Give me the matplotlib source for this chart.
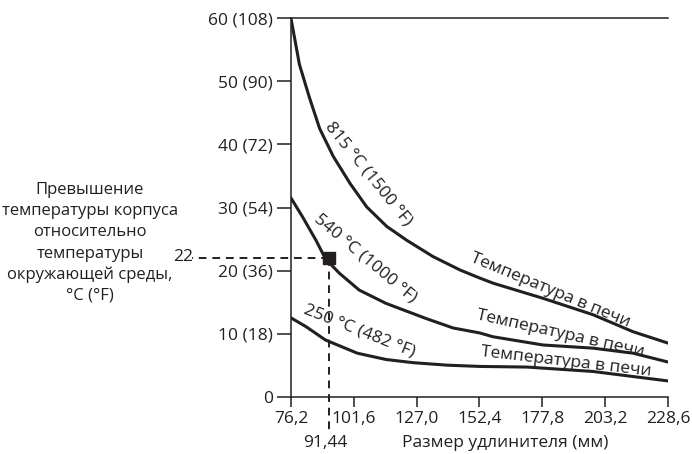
import matplotlib
matplotlib.use("Agg")
import matplotlib.pyplot as plt

plt.rcParams['font.family'] = ['Open Sans', 'DejaVu Sans']

# curves (mm, degC)
x815 = [76.2, 79.6, 83.6, 87.8, 93.3, 100.1, 106.8, 114.9, 123.0, 133.7, 144.5, 152.6, 157.9, 178.1, 198.3, 214.5, 228.6]
y815 = [60.0, 52.7, 47.5, 42.5, 38.1, 33.8, 30.1, 27.0, 24.8, 22.2, 20.1, 18.8, 18.0, 15.6, 13.0, 10.3, 8.5]
x540 = [76.2, 80.9, 86.3, 90.1, 95.7, 103.8, 114.6, 130.8, 141.7, 152.6, 157.9, 178.1, 198.3, 214.5, 228.6]
y540 = [31.5, 28.5, 24.8, 21.9, 19.6, 16.9, 14.8, 12.4, 10.9, 10.1, 9.5, 8.2, 7.7, 6.9, 5.5]
x250 = [76.2, 82.3, 90.1, 103.0, 114.6, 125.5, 139.3, 152.6, 171.6, 198.3, 228.6]
y250 = [12.5, 11.1, 9.0, 6.9, 5.9, 5.4, 5.0, 4.8, 4.7, 4.0, 2.5]

xticks = [76.2, 101.6, 127.0, 152.4, 177.8, 203.2, 228.6]
xlabels = ['76,2', '101,6', '127,0', '152,4', '177,8', '203,2', '228,6']
yticks = [0, 10, 20, 30, 40, 50, 60]
ylabels = ['0', '10 (18)', '20 (36)', '30 (54)', '40 (72)', '50 (90)', '60 (108)']

mark_x = 91.44
mark_y = 22

curve_labels = ['815 °C (1500 °F)', '540 °C (1000 °F)', '250 °C (482 °F)']
oven = 'Температура в печи'
ylabel_lines = ['Превышение', 'температуры корпуса', 'относительно',
                'температуры', 'окружающей среды,', '°C (°F)']

ink = '#231f20'

fig = plt.figure(figsize=(6.92, 4.54), dpi=100)
ax = fig.add_axes([0.4205, 0.1262, 0.5448, 0.8335])

for xs, ys in [(x815, y815), (x540, y540), (x250, y250)]:
    ax.plot(xs, ys, color=ink, lw=2.2, solid_joinstyle='round', zorder=3)

# reference point
ax.plot([mark_x, mark_x], [mark_y, -5.6], color=ink, lw=1.4, ls=(0, (4, 3)), clip_on=False)
ax.plot([mark_x, 36.2], [mark_y, mark_y], color=ink, lw=1.4, ls=(0, (4, 3)), clip_on=False)
ax.plot([mark_x], [mark_y], marker='s', ms=8, color=ink, zorder=4, clip_on=False)

ax.set_xlim(76.2, 228.6)
ax.set_ylim(0, 60)
ax.set_xticks(xticks)
ax.set_xticklabels(xlabels)
ax.set_yticks(yticks)
ax.set_yticklabels(ylabels)
ax.tick_params(axis='y', length=10, width=1.1, pad=3, labelsize=12.5, colors=ink)
ax.tick_params(axis='x', length=7, width=1.1, pad=3, labelsize=12.5, colors=ink)
ax.spines['right'].set_visible(False)
for s in ['left', 'bottom', 'top']:
    ax.spines[s].set_linewidth(1.1)
    ax.spines[s].set_color(ink)

fs = 12.5
ax.text(107.4, 35.3, curve_labels[0], rotation=-51, ha='center', va='center', fontsize=fs, color=ink, rotation_mode='anchor')
ax.text(106.4, 22.0, curve_labels[1], rotation=-40, ha='center', va='center', fontsize=fs, color=ink, rotation_mode='anchor')
ax.text(104.0, 10.4, curve_labels[2], rotation=-21.7, ha='center', va='center', fontsize=fs, color=ink, rotation_mode='anchor')
ax.text(180.9, 16.9, oven, rotation=-22.5, ha='center', va='center', fontsize=fs, color=ink, rotation_mode='anchor')
ax.text(185.0, 9.9, oven, rotation=-12.6, ha='center', va='center', fontsize=fs, color=ink, rotation_mode='anchor')
ax.text(187.4, 5.5, oven, rotation=-6.6, ha='center', va='center', fontsize=fs, color=ink, rotation_mode='anchor')

# y label, one text per line
for i, line in enumerate(ylabel_lines):
    fig.text(90 / 692, 1 - (190 + 21.2 * i) / 454, line,
             ha='center', va='center', fontsize=12, color=ink)
fig.text(193 / 692, 1 - 257 / 454, '22', ha='right', va='center', fontsize=fs, color=ink)
fig.text(325 / 692, 1 - 443 / 454, '91,44', ha='center', va='center', fontsize=fs, color=ink)
fig.text(505 / 692, 1 - 443 / 454, 'Размер удлинителя (мм)', ha='center', va='center', fontsize=fs, color=ink)

fig.savefig('out.png', dpi=100)
